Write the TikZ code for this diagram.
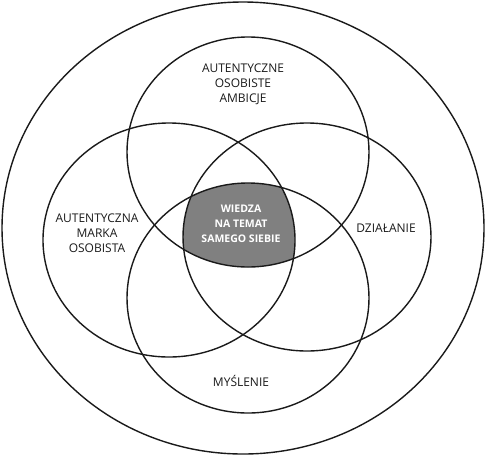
\documentclass[tikz,border=0pt]{standalone}
\usepackage{fontspec}
\setmainfont{Open Sans}
\usetikzlibrary{positioning}
\definecolor{ink}{HTML}{1A1A1A}
\definecolor{core}{HTML}{808080}

\begin{document}
\begin{tikzpicture}[
      x=1pt, y=-1pt,
      ring/.style={draw=ink, line width=1.4pt},
      lbl/.style={text=ink, font=\fontsize{12}{15}\selectfont, align=center, inner sep=0pt},
      corelbl/.style={text=white, font=\bfseries\fontsize{10.5}{15}\selectfont, align=center, inner sep=0pt}
    ]
      \useasboundingbox (0,0) rectangle (486,456);
      % centre: common part of all four
      \begin{scope}
        \clip (248,152) ellipse [x radius=121pt, y radius=115pt];
        \clip (248,298) ellipse [x radius=121pt, y radius=115pt];
        \clip (169,240) ellipse [x radius=126pt, y radius=117pt];
        \fill[core] (307,237) ellipse [x radius=124pt, y radius=114pt];
      \end{scope}
      \draw[ring] (243,228) ellipse [x radius=241pt, y radius=226pt];
      \draw[ring] (248,152) ellipse [x radius=121pt, y radius=115pt];
      \draw[ring] (248,298) ellipse [x radius=121pt, y radius=115pt];
      \draw[ring] (169,240) ellipse [x radius=126pt, y radius=117pt];
      \draw[ring] (307,237) ellipse [x radius=124pt, y radius=114pt];
      \node[lbl] (ambicje) at (243,84) {AUTENTYCZNE\\OSOBISTE\\AMBICJE};
      \node[lbl] (marka)   at (97,233) {AUTENTYCZNA\\MARKA\\OSOBISTA};
      \node[lbl] (dzial)   at (386,228) {DZIAŁANIE};
      \node[lbl] (myslen)  at (241,381) {MYŚLENIE};
      \node[corelbl] (wiedza) at (241,224) {WIEDZA\\NA TEMAT\\SAMEGO SIEBIE};
    \end{tikzpicture}
\end{document}
